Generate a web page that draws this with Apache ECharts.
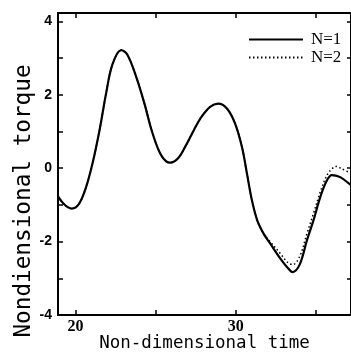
<!DOCTYPE html>
<html>
<head>
<meta charset="utf-8">
<script src="https://cdn.jsdelivr.net/npm/echarts@6/dist/echarts.min.js"></script>
<style>html,body{margin:0;padding:0;background:#fff}#c{width:351px;height:354px}</style>
</head>
<body>
<div id="c"></div>
<script>
var times = [18.9, 19.3, 19.75, 20.2, 20.65, 21.05, 21.5, 21.9, 22.3, 22.85, 23.25, 23.8, 24.3, 24.8, 25.35, 25.9, 26.4, 26.9, 27.4, 27.8, 28.4, 28.9, 29.45, 29.95, 30.4, 30.7, 31.0, 31.35, 31.75, 32.15, 32.8, 33.2, 33.55, 34.0, 34.45, 34.85, 35.3, 35.7, 36.0, 36.25, 36.55, 37.2];
var torqueN1 = [-0.77, -0.99, -1.10, -0.98, -0.52, 0.12, 1.05, 2.03, 2.83, 3.22, 3.08, 2.47, 1.76, 0.96, 0.35, 0.15, 0.27, 0.63, 1.05, 1.36, 1.67, 1.76, 1.63, 1.23, 0.56, -0.14, -0.85, -1.43, -1.79, -2.05, -2.47, -2.69, -2.83, -2.62, -1.96, -1.43, -0.76, -0.33, -0.19, -0.20, -0.25, -0.46];
var torqueN2 = [-0.77, -0.99, -1.10, -0.98, -0.52, 0.12, 1.05, 2.03, 2.83, 3.22, 3.08, 2.47, 1.76, 0.96, 0.35, 0.15, 0.27, 0.63, 1.05, 1.36, 1.67, 1.76, 1.63, 1.23, 0.56, -0.14, -0.85, -1.43, -1.79, -2.00, -2.33, -2.55, -2.63, -2.40, -1.78, -1.24, -0.62, -0.19, -0.02, 0.05, 0.00, -0.14];
var xLabels = [20, 30];
var yLabels = [-4, -2, 0, 2, 4];
var seriesNames = ['N=1', 'N=2'];

function pairs(xs, ys) { return xs.map(function (x, i) { return [x, ys[i]]; }); }

var chart = echarts.init(document.getElementById('c'), null, {renderer: 'canvas'});
var axisLineStyle = {color: '#000', width: 2};
var xCommon = {
  type: 'value', min: 18.9, max: 37.2, splitNumber: 4, minInterval: 5, maxInterval: 5,
  axisLine: {show: true, onZero: false, lineStyle: axisLineStyle},
  axisTick: {show: true, inside: true, length: 5, lineStyle: {color: '#000', width: 1.5}},
  splitLine: {show: false}
};
var yCommon = {
  type: 'value', min: -4, max: 4.23, interval: 1,
  axisLine: {show: true, onZero: false, lineStyle: axisLineStyle},
  axisTick: {show: true, inside: true, length: 5, lineStyle: {color: '#000', width: 1.5}},
  splitLine: {show: false}
};
chart.setOption({
  animation: false,
  backgroundColor: '#fff',
  grid: {left: 58, right: 0, top: 13, bottom: 39, containLabel: false, outerBoundsMode: 'none'},
  legend: {
    orient: 'vertical', left: 243, top: 26,
    itemWidth: 54, itemHeight: 12, itemGap: 1,
    itemStyle: {opacity: 0},
    textStyle: {fontFamily: 'Liberation Serif', fontSize: 17, lineHeight: 15, color: '#000', padding: [0, 0, 0, 3]},
    data: seriesNames
  },
  xAxis: [Object.assign({}, xCommon, {
    position: 'bottom',
    axisLabel: {
      margin: 4, color: '#000', fontFamily: 'Liberation Serif', fontWeight: 'bold', fontSize: 16,
      showMinLabel: false, showMaxLabel: false,
      formatter: function (v) { return xLabels.indexOf(Math.round(v * 1000) / 1000) >= 0 ? String(Math.round(v)) : ''; }
    },
    name: 'Non-dimensional time', nameLocation: 'middle', nameGap: 19, nameMoveOverlap: false,
    nameTextStyle: {fontFamily: 'DejaVu Sans Mono', fontSize: 17.5, color: '#000'}
  }), Object.assign({}, xCommon, {
    position: 'top', axisLabel: {show: false}
  })],
  yAxis: [Object.assign({}, yCommon, {
    position: 'left',
    axisLabel: {
      margin: 6, color: '#000', fontFamily: 'Liberation Sans', fontWeight: 'bold', fontSize: 14,
      showMaxLabel: false,
      formatter: function (v) { return yLabels.indexOf(v) >= 0 ? String(v) : ''; }
    },
    name: 'Nondiensional torque', nameLocation: 'middle', nameGap: 22, nameRotate: 90, nameMoveOverlap: false,
    nameTextStyle: {fontFamily: 'DejaVu Sans Mono', fontSize: 22.7, color: '#000', padding: [0, 74, 0, 0]}
  }), Object.assign({}, yCommon, {
    position: 'right', axisLabel: {show: false},
    axisTick: {show: true, inside: true, length: 4, lineStyle: {color: '#000', width: 1.5}}
  })],
  series: [{
    name: seriesNames[0], type: 'line', symbol: 'none', smooth: 0.35,
    lineStyle: {color: '#000', width: 2.2, type: 'solid'},
    itemStyle: {color: '#000'},
    data: pairs(times, torqueN1), z: 3
  }, {
    name: seriesNames[1], type: 'line', symbol: 'none', smooth: 0.35,
    lineStyle: {color: '#000', width: 1.5, type: [1.5, 2.5]},
    itemStyle: {color: '#000'},
    data: pairs(times, torqueN2), z: 2
  }]
});
</script>
</body>
</html>
